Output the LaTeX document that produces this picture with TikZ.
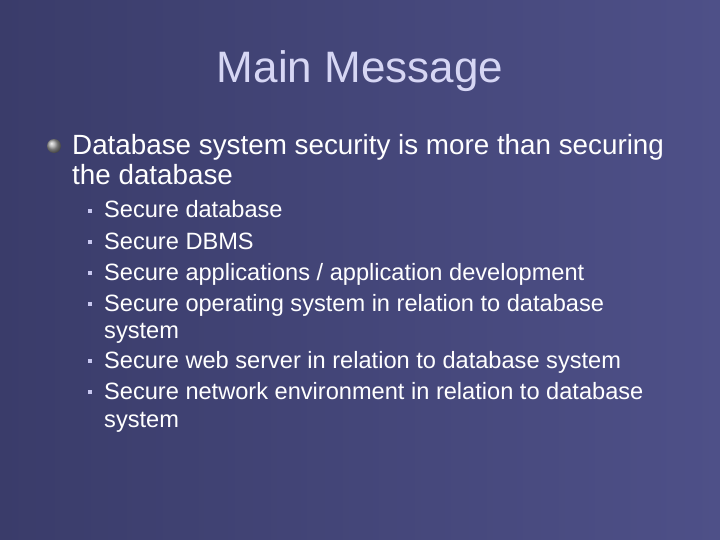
\documentclass[tikz,border=0pt]{standalone}
\usepackage{fontspec}
\setmainfont{Liberation Sans}
\definecolor{bgA}{HTML}{3A3C6A}
\definecolor{bgB}{HTML}{4E5088}
\definecolor{titlec}{HTML}{D6D6F4}
\definecolor{subb}{HTML}{C8C8F0}
\begin{document}
\begin{tikzpicture}[x=1pt,y=1pt,
  body/.style={anchor=base west,inner sep=0,text=white,font=\fontsize{27.8}{32}\selectfont},
  sub/.style={anchor=base west,inner sep=0,text=white,font=\fontsize{23.6}{27}\selectfont},
  sq/.style={fill=subb,minimum size=4,inner sep=0}]
\shade[left color=bgA,right color=bgB] (0,0) rectangle (720,-540);
\useasboundingbox (0,0) rectangle (720,-540);
\node[anchor=base,inner sep=0,text=titlec,font=\fontsize{44}{50}\selectfont] (title) at (360,-83) {Main Message};
\shade[ball color=gray!70] (54,-146) circle (7);
\node[body] (l1) at (72,-155) {Database system security is more than securing};
\node[body] (l2) at (72,-185) {the database};
\foreach \y/\t [count=\i] in {218/{Secure database},249/{Secure DBMS},280/{Secure applications / application development},311/{Secure operating system in relation to database},368/{Secure web server in relation to database system},399/{Secure network environment in relation to database}}{
  \node[sq] (b\i) at (90,-\y+7) {};
  \node[sub] (s\i) at (104,-\y) {\t};
}
\node[sub] (w1) at (104,-338) {system};
\node[sub] (w2) at (104,-427) {system};
\end{tikzpicture}
\end{document}
